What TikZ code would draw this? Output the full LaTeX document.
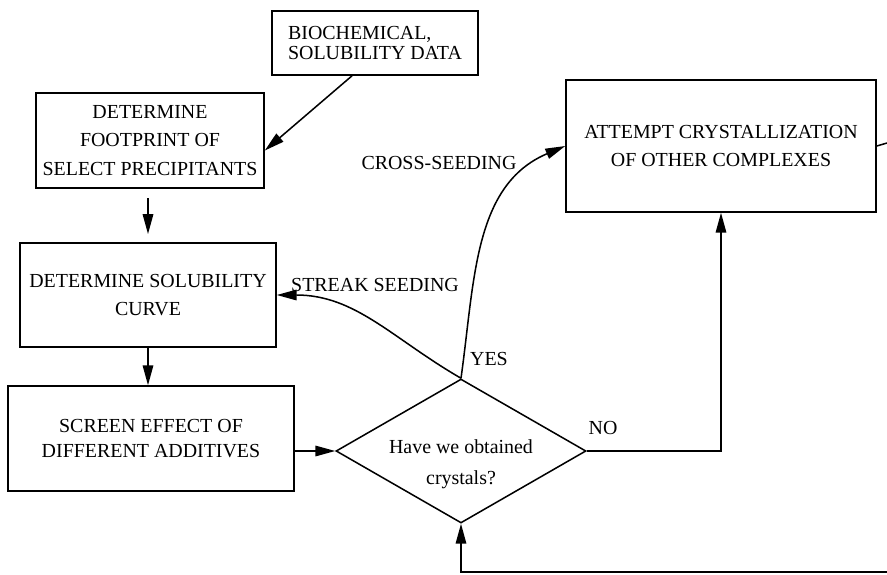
\documentclass[tikz,border=0pt]{standalone}
\usepackage{fontspec}
\setmainfont{Liberation Serif}
\usetikzlibrary{shapes.geometric,arrows.meta}

\tikzset{
	box/.style={draw, line width=1.3pt, align=center, inner sep=2pt},
	decision/.style={draw, diamond, line width=1.3pt, align=center, inner sep=0pt,
		inner xsep=-14pt, aspect=1.74, minimum width=7.5cm, minimum height=4.32cm,
		font=\fontsize{17}{26}\selectfont},
	arr/.style={line width=1.3pt, -{Triangle[length=17pt,width=9pt]}},
	lbl/.style={inner sep=0pt}
}

\begin{document}
\begin{tikzpicture}[x=0.03cm, y=-0.03cm, font=\fontsize{17}{24}\selectfont]
	\useasboundingbox (0,0) rectangle (887,574);

	% Boxes
	\node[box, align=left, minimum width=6.18cm, minimum height=1.92cm,
		font=\fontsize{17}{17}\selectfont] (bio) at (375,43) {BIOCHEMICAL,\\SOLUBILITY DATA};
	\node[box, minimum width=6.84cm, minimum height=2.85cm] (foot) at (150,140.5)
		{DETERMINE\\FOOTPRINT OF\\SELECT PRECIPITANTS};
	\node[box, minimum width=7.68cm, minimum height=3.12cm] (curve) at (148,295)
		{DETERMINE SOLUBILITY\\CURVE};
	\node[box, minimum width=8.58cm, minimum height=3.15cm,
		font=\fontsize{17}{21}\selectfont] (screen) at (151,438.5)
		{SCREEN EFFECT OF\\DIFFERENT ADDITIVES};
	\node[box, minimum width=9.3cm, minimum height=3.96cm] (attempt) at (721,146)
		{ATTEMPT CRYSTALLIZATION\\OF OTHER COMPLEXES};

	% Decision
	\node[decision, text height=60pt] (crystals) at (461,451) {Have we obtained\\crystals?};

	% Labels
	\node[lbl] (streak) at (375,285) {STREAK SEEDING};
	\node[lbl] (cross) at (439,163) {CROSS-SEEDING};
	\node[lbl] (yes) at (489,359) {YES};
	\node[lbl] (no) at (603,428) {NO};

	% Loose ends at the right border
	\coordinate (loopout) at (887,143);
	\coordinate (loopin) at (887,572);

	% Connectors
	\draw[arr] (bio.235) -- (foot.355);
	\draw[arr, shorten <=8pt, shorten >=7pt] (curve.north |- foot.south) -- (curve.north);
	\draw[arr] (curve.south) -- (curve.south |- screen.north);
	\draw[arr] (screen.east |- crystals.west) -- (crystals.west);
	\draw[arr] (crystals.north) to[out=150, in=0] (curve.east);
	\draw[arr] (crystals.north) to[out=82, in=203] (attempt.west);
	\draw[arr] (crystals.east) -| (attempt.south);
	\draw[line width=1.3pt] (attempt.east) -- (loopout);
	\draw[arr] (loopin) -| (crystals.south);
\end{tikzpicture}
\end{document}
